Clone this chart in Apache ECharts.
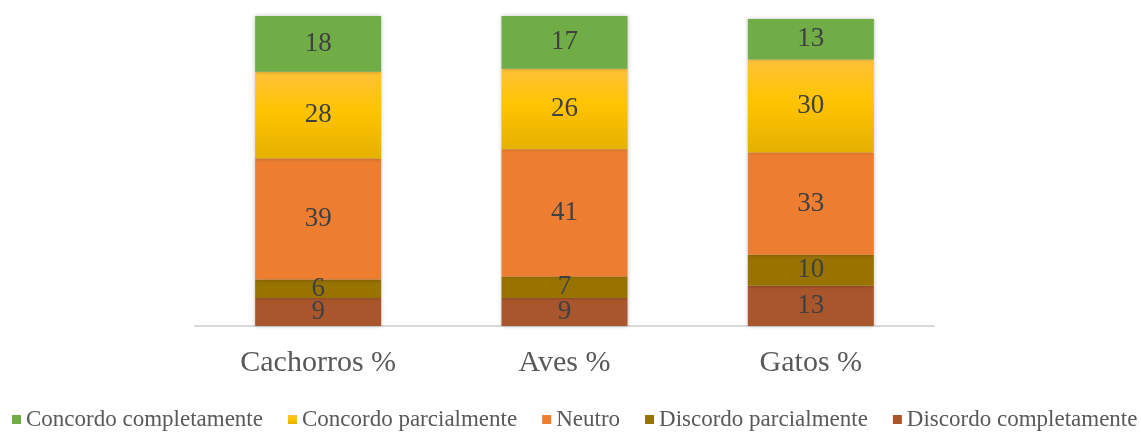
<!DOCTYPE html>
<html>
<head>
<meta charset="utf-8">
<script src="https://cdn.jsdelivr.net/npm/echarts@6/dist/echarts.min.js"></script>
<style>
  html, body { margin: 0; padding: 0; background: #fff; }
  #chart { width: 1141px; height: 432px; }
</style>
</head>
<body>
<div id="chart"></div>
<script>
// Survey answers (%) per animal group
const categories = ['Cachorros %', 'Aves %', 'Gatos %'];
const discordoCompletamente = [9, 9, 13];
const discordoParcialmente = [6, 7, 10];
const neutro = [39, 41, 33];
const concordoParcialmente = [28, 26, 30];
const concordoCompletamente = [18, 17, 13];

const legendOrder = ['Concordo completamente', 'Concordo parcialmente', 'Neutro', 'Discordo parcialmente', 'Discordo completamente'];

const serif = '"Liberation Serif", "DejaVu Serif", serif';

const yellowGradient = new echarts.graphic.LinearGradient(0, 0, 0, 1, [
  { offset: 0, color: '#FFC23A' },
  { offset: 0.45, color: '#FFC400' },
  { offset: 1, color: '#E5B000' }
]);

function makeSeries(name, data, color) {
  return {
    name: name,
    type: 'bar',
    stack: 'total',
    data: data,
    barWidth: 126,
    itemStyle: {
      color: color,
      shadowBlur: 4,
      shadowColor: 'rgba(0,0,0,0.25)'
    },
    label: {
      show: true,
      position: 'inside',
      color: '#404040',
      fontFamily: serif,
      fontSize: 27
    }
  };
}

const chart = echarts.init(document.getElementById('chart'));
chart.setOption({
  animation: false,
  grid: { left: 195, right: 207, top: 16, bottom: 106 },
  legend: {
    data: legendOrder.map(n => ({ name: n, icon: 'rect' })),
    bottom: 1,
    left: 12,
    width: 1129,
    padding: 0,
    itemWidth: 9,
    itemHeight: 9,
    itemGap: 25,
    textStyle: { fontFamily: serif, fontSize: 23, color: '#595959' }
  },
  xAxis: {
    type: 'category',
    data: categories,
    axisLine: { lineStyle: { color: '#D9D9D9', width: 2 } },
    axisTick: { show: false },
    axisLabel: { fontFamily: serif, fontSize: 30, color: '#595959', margin: 22 }
  },
  yAxis: {
    type: 'value',
    min: 0,
    max: 100,
    show: false,
    splitLine: { show: false }
  },
  series: [
    makeSeries('Discordo completamente', discordoCompletamente, '#A9562C'),
    makeSeries('Discordo parcialmente', discordoParcialmente, '#997300'),
    makeSeries('Neutro', neutro, '#ED7D31'),
    makeSeries('Concordo parcialmente', concordoParcialmente, yellowGradient),
    makeSeries('Concordo completamente', concordoCompletamente, '#70AD47')
  ]
});
</script>
</body>
</html>
